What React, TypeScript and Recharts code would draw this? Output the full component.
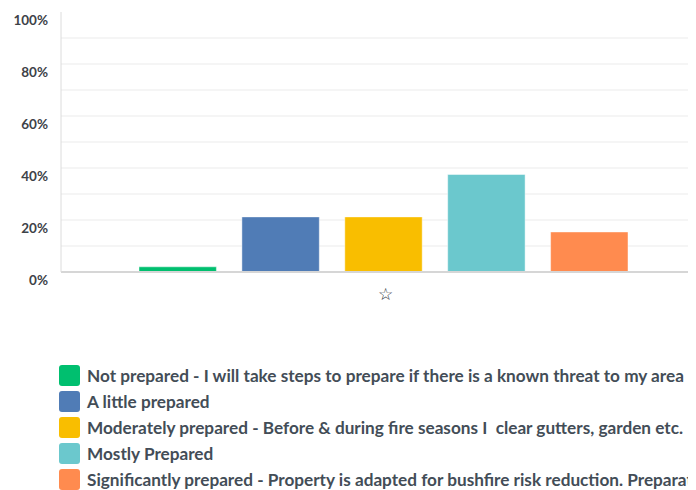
import { BarChart, Bar, XAxis, YAxis, CartesianGrid } from 'recharts';

// answer options (legend order = bar order)
const options = [
  'Not prepared - I will take steps to prepare if there is a known threat to my area',
  'A little prepared',
  'Moderately prepared - Before & during fire seasons I  clear gutters, garden etc.',
  'Mostly Prepared',
  'Significantly prepared - Property is adapted for bushfire risk reduction. Preparation',
];
const seriesKeys = ['notPrepared', 'littlePrepared', 'moderatelyPrepared', 'mostlyPrepared', 'significantlyPrepared'];
const percentages = [2.0, 21.2, 21.2, 37.5, 15.4];
const colors = ['#00bf6f', '#507cb6', '#f9be00', '#6bc8cd', '#ff8b4f'];
const yTicks = [0, 10, 20, 30, 40, 50, 60, 70, 80, 90, 100];
const gridValues = [10, 20, 30, 40, 50, 60, 70, 80, 90];
const questionLabel = '☆';

export default function App() {
  const row: Record<string, number | string> = { name: questionLabel };
  seriesKeys.forEach((k, i) => {
    row[k] = percentages[i];
  });
  const data = [row];

  // only every second tick gets a label, drawn a bit below the tick
  const YTick = (props: any) => {
    const { x, y, payload } = props;
    if (payload.value % 20 !== 0) return null;
    return (
      <text
        x={x - 5}
        y={y + 8}
        textAnchor="end"
        dominantBaseline="central"
        fontFamily="Lato, sans-serif"
        fontWeight={700}
        fontSize={13.5}
        fill="#3d4248"
      >
        {payload.value}%
      </text>
    );
  };

  const XTick = (props: any) => {
    const { x, y, payload } = props;
    return (
      <text
        x={x + 2}
        y={y + 14}
        textAnchor="middle"
        dominantBaseline="central"
        fontFamily="DejaVu Sans, sans-serif"
        fontWeight={700}
        fontSize={17}
        fill="#2f353b"
      >
        {payload.value}
      </text>
    );
  };

  return (
    <div
      style={{
        margin: -8,
        width: 696,
        height: 498,
        overflow: 'hidden',
        position: 'relative',
        background: '#fff',
      }}
    >
      <BarChart
        width={720}
        height={310}
        data={data}
        margin={{ top: 12, right: 14, left: 0, bottom: 0 }}
        barGap={25.5}
        barCategoryGap={0}
      >
        <CartesianGrid vertical={false} horizontalValues={gridValues} stroke="#ebebeb" strokeWidth={1} />
        <XAxis
          dataKey="name"
          height={38}
          tickLine={false}
          axisLine={{ stroke: '#d6d6d6', strokeWidth: 2 }}
          tick={<XTick />}
        />
        <YAxis
          width={61}
          domain={[0, 100]}
          ticks={yTicks}
          interval={0}
          tickLine={false}
          axisLine={{ stroke: '#dcdcdc', strokeWidth: 1 }}
          tick={<YTick />}
        />
        {seriesKeys.map((k, i) => (
          <Bar
            key={k}
            dataKey={k}
            fill={colors[i]}
            stroke="#ffffff"
            strokeOpacity={0.45}
            strokeWidth={1}
            barSize={77.4}
            isAnimationActive={false}
          />
        ))}
      </BarChart>

      <div style={{ position: 'absolute', left: 59, top: 362.7 }}>
        {options.map((label, i) => (
          <div
            key={label}
            style={{ display: 'flex', alignItems: 'center', height: 26 }}
          >
            <div
              style={{
                width: 21,
                height: 21,
                borderRadius: 3,
                background: colors[i],
                flexShrink: 0,
              }}
            />
            <span
              style={{
                marginLeft: 7,
                whiteSpace: 'pre',
                fontFamily: 'Lato, sans-serif',
                fontWeight: 700,
                fontSize: 17.2,
                color: '#434d57',
              }}
            >
              {label}
            </span>
          </div>
        ))}
      </div>
    </div>
  );
}
